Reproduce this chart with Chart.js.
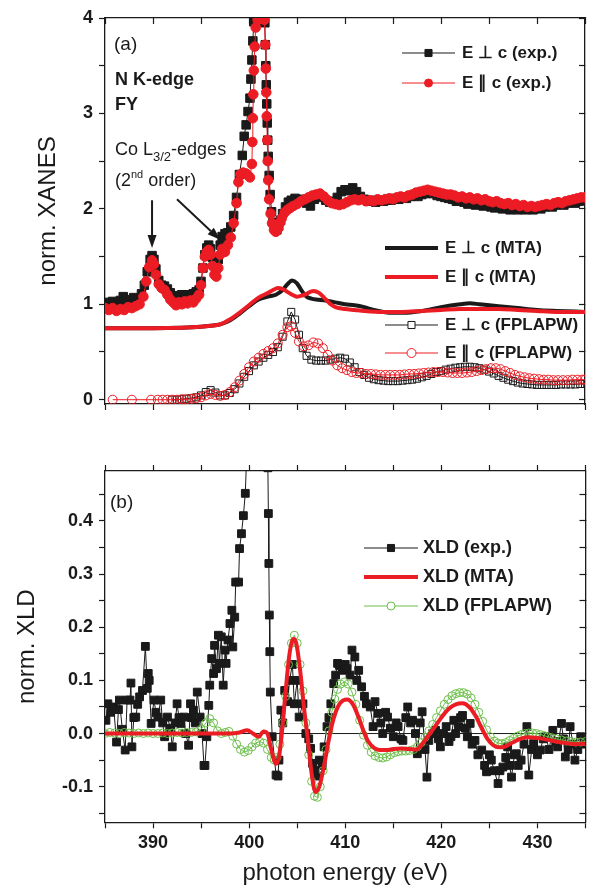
<!DOCTYPE html>
<html>
<head>
<meta charset="utf-8">
<script src="https://cdn.jsdelivr.net/npm/chart.js@4.4.1/dist/chart.umd.min.js"></script>
<style>
  html, body { margin: 0; padding: 0; background: #fff; }
  #wrap { position: relative; width: 592px; height: 893px; }
  canvas { position: absolute; left: 0; }
  #cA { top: 0; }
  #cB { top: 430px; }
</style>
</head>
<body>
<div id="wrap">
  <canvas id="cA" width="592" height="430"></canvas>
  <canvas id="cB" width="592" height="463"></canvas>
</div>
<script>
// ── Data (photon energy eV, value) ─────────────────────────────────────
const xLabels  = [390, 400, 410, 420, 430];
const yLabelsA = [0, 1, 2, 3, 4];
const yLabelsB = [-0.1, 0, 0.1, 0.2, 0.3, 0.4];

// (a) E perp c, experiment
const expPerpA = [
  [385.0,1.02],[385.4,1.00],[385.8,1.03],[386.2,1.01],[386.6,1.04],[386.9,1.08],[387.2,1.04],[387.6,1.05],
  [388.0,1.07],[388.4,1.06],[388.8,1.11],[389.1,1.20],[389.4,1.34],[389.7,1.47],[389.9,1.51],[390.1,1.47],
  [390.3,1.37],[390.6,1.25],[390.9,1.20],[391.2,1.19],[391.5,1.16],[391.8,1.12],[392.1,1.09],[392.4,1.06],
  [392.7,1.08],[393.0,1.10],[393.3,1.07],[393.6,1.10],[393.9,1.08],[394.2,1.11],[394.5,1.13],[394.8,1.15],
  [395.0,1.24],[395.2,1.38],[395.4,1.52],[395.6,1.59],[395.8,1.62],[396.0,1.58],[396.2,1.49],[396.4,1.41],
  [396.6,1.38],[396.8,1.47],[397.0,1.62],[397.2,1.71],[397.5,1.74],[397.8,1.75],[398.1,1.81],[398.4,1.93],
  [398.7,2.12],[399.0,2.36],[399.3,2.56],[399.5,2.76],[399.7,2.88],[399.9,3.02],[400.1,3.16],[400.2,3.36],
  [400.3,3.56],[400.4,3.76],[400.5,3.96],[400.8,4.4],[401.3,4.4],[401.65,3.95],[401.7,3.72],[401.75,3.5],
  [401.8,3.3],[401.85,3.1],[401.9,2.9],[401.95,2.72],[402.0,2.55],[402.1,2.35],[402.2,2.15],[402.35,1.97],
  [402.5,1.86],[402.7,1.80],[402.9,1.78],[403.1,1.82],[403.3,1.88],[403.5,1.95],[403.8,2.02],[404.1,2.07],
  [404.4,2.09],[404.8,2.11],[405.2,2.08],[405.6,2.10],[406.0,2.06],[406.4,2.03],[406.8,2.10],[407.2,2.14],
  [407.6,2.12],[408.0,2.09],[408.4,2.07],[408.8,2.08],[409.2,2.12],[409.6,2.18],[410.0,2.20],[410.4,2.19],
  [410.8,2.22],[411.2,2.18],[411.6,2.13],[412.0,2.10],[412.4,2.08],[412.8,2.09],[413.2,2.07],[413.6,2.09],
  [414.0,2.08],[414.4,2.10],[414.8,2.09],[415.2,2.11],[415.6,2.10],[416.0,2.12],[416.4,2.11],[416.8,2.13],
  [417.2,2.14],[417.6,2.13],[418.0,2.15],[418.4,2.16],[418.8,2.17],[419.2,2.16],[419.6,2.14],[420.0,2.13],
  [420.4,2.12],[420.8,2.11],[421.2,2.10],[421.6,2.08],[422.0,2.09],[422.4,2.07],[422.8,2.05],[423.2,2.06],
  [423.6,2.04],[424.0,2.05],[424.4,2.03],[424.8,2.04],[425.2,2.02],[425.6,2.01],[426.0,2.02],[426.4,2.00],
  [426.8,2.01],[427.2,1.99],[427.6,2.00],[428.0,1.99],[428.4,2.00],[428.8,1.99],[429.2,2.00],[429.6,1.99],
  [430.0,2.01],[430.4,2.00],[430.8,2.02],[431.2,2.03],[431.6,2.02],[432.0,2.04],[432.4,2.05],[432.8,2.04],
  [433.2,2.06],[433.6,2.07],[434.0,2.06],[434.4,2.08],[434.8,2.09],
];

// (a) E par c, experiment
const expParA = [
  [385.0,0.96],[385.4,0.94],[385.8,0.96],[386.2,0.93],[386.6,0.95],[387.0,0.94],[387.4,0.97],[387.8,0.96],
  [388.2,0.98],[388.6,1.00],[389.0,1.08],[389.3,1.24],[389.6,1.39],[389.9,1.46],[390.1,1.42],[390.3,1.31],
  [390.6,1.21],[390.9,1.17],[391.2,1.15],[391.5,1.10],[391.8,1.05],[392.1,1.02],[392.4,0.99],[392.7,1.02],
  [393.0,1.00],[393.3,1.03],[393.6,1.01],[393.9,1.04],[394.2,1.02],[394.5,1.06],[394.8,1.10],[395.0,1.20],
  [395.2,1.38],[395.4,1.50],[395.6,1.55],[395.8,1.57],[396.0,1.52],[396.2,1.40],[396.4,1.31],[396.6,1.29],
  [396.8,1.38],[397.0,1.52],[397.2,1.58],[397.5,1.55],[397.8,1.62],[398.1,1.70],[398.4,1.85],[398.7,2.06],
  [398.9,2.28],[399.1,2.36],[399.4,2.38],[399.7,2.37],[399.9,2.35],[400.1,2.33],[400.3,2.47],[400.35,2.7],
  [400.4,2.95],[400.45,3.2],[400.5,3.45],[400.6,3.7],[400.7,3.9],[400.9,3.98],[401.25,4.05],[401.6,3.98],
  [401.7,3.72],[401.75,3.47],[401.8,3.22],[401.85,2.97],[401.9,2.72],[401.95,2.5],[402.0,2.30],[402.1,2.10],
  [402.25,1.95],[402.4,1.85],[402.6,1.78],[402.8,1.76],[403.0,1.79],[403.2,1.85],[403.4,1.90],[403.7,1.96],
  [404.0,1.99],[404.3,2.01],[404.6,2.03],[405.0,2.05],[405.4,2.08],[405.8,2.10],[406.2,2.12],[406.6,2.14],
  [407.0,2.15],[407.4,2.16],[407.8,2.13],[408.2,2.09],[408.6,2.06],[409.0,2.05],[409.4,2.04],[409.8,2.05],
  [410.2,2.07],[410.6,2.09],[411.0,2.10],[411.4,2.09],[411.8,2.10],[412.2,2.08],[412.6,2.09],[413.0,2.08],
  [413.4,2.10],[413.8,2.09],[414.2,2.10],[414.6,2.11],[415.0,2.10],[415.4,2.12],[415.8,2.13],[416.2,2.12],
  [416.6,2.14],[417.0,2.15],[417.4,2.17],[417.8,2.18],[418.2,2.19],[418.6,2.20],[419.0,2.19],[419.4,2.18],
  [419.8,2.17],[420.2,2.16],[420.6,2.15],[421.0,2.15],[421.4,2.14],[421.8,2.12],[422.2,2.13],[422.6,2.11],
  [423.0,2.12],[423.4,2.10],[423.8,2.11],[424.2,2.09],[424.6,2.10],[425.0,2.08],[425.4,2.07],[425.8,2.08],
  [426.2,2.06],[426.6,2.05],[427.0,2.06],[427.4,2.04],[427.8,2.05],[428.2,2.03],[428.6,2.04],[429.0,2.02],
  [429.4,2.03],[429.8,2.02],[430.2,2.03],[430.6,2.04],[431.0,2.05],[431.4,2.04],[431.8,2.06],[432.2,2.07],
  [432.6,2.06],[433.0,2.08],[433.4,2.09],[433.8,2.10],[434.2,2.11],[434.6,2.12],[435.0,2.12],
];

// (a) MTA calculations
const mtaPerpA = [
  [385,0.75],[390,0.75],[393,0.755],[395,0.765],[396,0.775],[397,0.79],[398,0.83],[399,0.90],[400,0.98],
  [401,1.05],[402,1.08],[402.8,1.10],[403.5,1.15],[404,1.21],[404.5,1.25],[405,1.22],[405.5,1.14],
  [406,1.08],[406.5,1.06],[407,1.05],[408,1.04],[409,1.02],[410,1.00],[411,0.99],[412,0.97],[413,0.94],
  [414,0.92],[415,0.91],[416,0.91],[418,0.93],[420,0.97],[422,1.00],[423,1.01],[424,1.00],[426,0.98],
  [428,0.96],[430,0.94],[432,0.93],[435,0.92],
];
const mtaParA = [
  [385,0.75],[390,0.75],[393,0.755],[395,0.765],[396,0.775],[397,0.79],[398,0.84],[399,0.91],[400,0.99],
  [401,1.07],[402,1.12],[402.5,1.15],[403,1.17],[403.5,1.16],[404,1.13],[404.5,1.10],[405,1.08],
  [405.5,1.09],[406,1.11],[406.7,1.14],[407.3,1.12],[408,1.05],[408.5,1.00],[409,0.97],[410,0.95],
  [411,0.94],[412,0.93],[414,0.92],[416,0.92],[418,0.93],[420,0.94],[422,0.95],[424,0.95],[426,0.95],
  [428,0.94],[430,0.93],[432,0.92],[435,0.92],
];

// (a) FPLAPW calculations
const fpPerpA = [
  [392.0,0.0],[392.5,0.0],[393.0,0.005],[393.5,0.01],[394.0,0.015],[394.5,0.025],[395.0,0.045],[395.5,0.08],
  [396.0,0.10],[396.5,0.075],[397.0,0.045],[397.5,0.045],[398.0,0.07],[398.5,0.11],[399.0,0.17],[399.5,0.24],
  [400.0,0.30],[400.5,0.36],[401.0,0.40],[401.5,0.44],[402.0,0.47],[402.5,0.50],[403.0,0.55],[403.5,0.66],
  [404.0,0.82],[404.4,0.92],[404.8,0.84],[405.2,0.68],[405.6,0.54],[406.0,0.46],[406.5,0.42],[407.0,0.41],
  [407.5,0.41],[408.0,0.41],[408.5,0.42],[409.0,0.43],[409.5,0.44],[410.0,0.43],[410.5,0.39],[411.0,0.34],
  [411.5,0.29],[412.0,0.26],[412.5,0.23],[413.0,0.215],[413.5,0.205],[414.0,0.20],[414.5,0.195],[415.0,0.195],
  [415.5,0.195],[416.0,0.20],[416.5,0.205],[417.0,0.21],[417.5,0.22],[418.0,0.235],[418.5,0.25],[419.0,0.27],
  [419.5,0.29],[420.0,0.30],[420.5,0.315],[421.0,0.325],[421.5,0.335],[422.0,0.34],[422.5,0.345],[423.0,0.345],
  [423.5,0.34],[424.0,0.33],[424.5,0.315],[425.0,0.295],[425.5,0.275],[426.0,0.25],[426.5,0.23],[427.0,0.21],
  [427.5,0.195],[428.0,0.18],[428.5,0.17],[429.0,0.165],[429.5,0.16],[430.0,0.155],[430.5,0.155],[431.0,0.155],
  [431.5,0.155],[432.0,0.155],[432.5,0.16],[433.0,0.16],[433.5,0.16],[434.0,0.16],[434.5,0.165],[435.0,0.165],
];
const fpParA = [
  [385.8,0.0],[387.8,0.0],[389.8,0.0],[390.5,0.0],[391.0,0.0],[391.5,0.0],[392.0,0.0],[392.5,0.0],
  [393.0,0.005],[393.5,0.005],[394.0,0.01],[394.5,0.015],[395.0,0.025],[395.5,0.045],[396.0,0.06],[396.5,0.05],
  [397.0,0.04],[397.5,0.05],[398.0,0.08],[398.5,0.13],[399.0,0.20],[399.5,0.27],[400.0,0.34],[400.5,0.40],
  [401.0,0.44],[401.5,0.48],[402.0,0.51],[402.5,0.54],[403.0,0.59],[403.5,0.68],[404.0,0.76],[404.4,0.77],
  [404.8,0.70],[405.2,0.61],[405.7,0.56],[406.2,0.57],[406.7,0.60],[407.2,0.59],[407.7,0.54],[408.2,0.47],
  [408.7,0.41],[409.2,0.36],[409.7,0.33],[410.2,0.31],[410.7,0.29],[411.2,0.28],[411.7,0.28],[412.2,0.27],
  [412.7,0.27],[413.2,0.265],[413.7,0.26],[414.2,0.26],[414.7,0.26],[415.2,0.26],[415.7,0.26],[416.2,0.265],
  [416.7,0.27],[417.2,0.27],[417.7,0.275],[418.2,0.28],[418.7,0.285],[419.2,0.29],[419.7,0.29],[420.2,0.29],
  [420.7,0.285],[421.2,0.28],[421.7,0.28],[422.2,0.28],[422.7,0.285],[423.2,0.29],[423.7,0.30],[424.2,0.31],
  [424.7,0.32],[425.2,0.33],[425.7,0.33],[426.2,0.32],[426.7,0.30],[427.2,0.28],[427.7,0.26],[428.2,0.245],
  [428.7,0.235],[429.2,0.225],[429.7,0.22],[430.2,0.215],[430.7,0.21],[431.2,0.21],[431.7,0.205],[432.2,0.205],
  [432.7,0.205],[433.2,0.205],[433.7,0.21],[434.2,0.21],[434.7,0.21],[435.0,0.21],
];

// (b) XLD experiment
const xldExp = [
  [385.1,0.025],[385.3,0.056],[385.6,0.04],[385.9,0.05],[386.2,-0.016],[386.4,0.045],[386.5,0.063],[386.8,0.008],
  [387.1,-0.031],[387.3,0.063],[387.6,0.063],[387.7,0.095],[387.8,-0.025],[388.0,0.03],[388.2,0.031],[388.4,0.055],
  [388.6,0.069],[388.9,0.081],[389.2,0.164],[389.4,0.085],[389.5,0.113],[389.6,0.1],[389.8,0.019],[390.1,0.063],
  [390.3,0.04],[390.5,0.031],[390.8,0.063],[391.0,0.02],[391.2,-0.006],[391.5,0.031],[391.8,0.01],[392.0,-0.025],
  [392.3,0.02],[392.5,0.056],[392.7,0.03],[392.9,0.019],[393.2,0.031],[393.4,0.0],[393.7,-0.022],[393.9,0.056],
  [394.0,0.03],[394.2,0.044],[394.4,0.02],[394.6,0.078],[394.9,0.031],[395.1,0.0],[395.3,-0.06],[395.4,-0.06],
  [395.6,-0.006],[395.8,0.053],[395.9,0.091],[396.1,0.141],[396.3,0.113],[396.4,0.166],[396.6,0.122],[396.8,0.185],
  [396.9,0.132],[397.1,0.182],[397.3,0.091],[397.5,0.157],[397.6,0.132],[397.8,0.176],[398.0,0.207],[398.2,0.232],
  [398.3,0.163],[398.5,0.219],[398.6,0.285],[398.9,0.285],[399.0,0.348],[399.2,0.376],[399.4,0.41],[399.6,0.452],
  [399.9,0.6],[400.5,0.9],[401.5,0.8],[401.95,0.5],[402.0,0.414],[402.05,0.32],[402.1,0.223],[402.15,0.154],
  [402.2,0.078],[402.4,-0.006],[402.8,-0.078],[403.0,-0.08],[403.1,-0.05],[403.3,0.044],[403.5,0.02],[403.7,0.081],
  [404.0,0.06],[404.2,0.1],[404.5,0.13],[404.7,0.056],[405.0,0.1],[405.2,0.031],[405.6,0.056],[405.9,0.0],
  [406.2,-0.01],[406.4,-0.028],[406.6,-0.056],[406.9,-0.069],[407.1,-0.08],[407.3,-0.05],[407.6,-0.06],[407.8,-0.025],
  [408.1,0.013],[408.3,0.03],[408.5,0.056],[408.8,0.094],[409.0,0.11],[409.2,0.132],[409.4,0.128],[409.7,0.119],
  [410.0,0.13],[410.2,0.122],[410.5,0.11],[410.7,0.157],[411.0,0.144],[411.2,0.1],[411.4,0.119],[411.7,0.088],
  [412.0,0.07],[412.2,0.056],[412.6,0.05],[412.9,0.013],[413.1,0.06],[413.4,0.038],[413.7,0.02],[413.9,0.0],
  [414.2,0.04],[414.4,0.031],[414.7,0.01],[415.0,-0.006],[415.3,0.02],[415.5,0.013],[415.8,-0.01],[416.0,-0.013],
  [416.3,0.03],[416.5,0.05],[416.8,0.02],[417.0,0.025],[417.3,0.0],[417.5,-0.038],[417.8,0.02],[418.0,0.041],
  [418.3,-0.03],[418.5,-0.082],[418.7,-0.013],[419.1,0.0],[419.4,0.006],[419.7,-0.01],[419.9,-0.025],[420.2,0.0],
  [420.5,0.013],[420.8,-0.015],[421.0,-0.006],[421.3,0.025],[421.5,0.0],[421.8,0.013],[422.0,0.03],[422.2,0.034],
  [422.5,0.01],[422.7,-0.006],[423.0,0.019],[423.2,-0.02],[423.5,-0.013],[423.8,-0.04],[424.2,-0.031],[424.5,-0.06],
  [424.7,-0.072],[425.0,-0.04],[425.2,-0.05],[425.5,-0.07],[425.9,-0.094],[426.1,-0.07],[426.4,-0.063],[426.7,-0.045],
  [426.9,-0.025],[427.1,-0.06],[427.3,-0.082],[427.6,-0.04],[427.8,-0.038],[428.0,-0.06],[428.3,-0.05],[428.6,-0.02],
  [428.9,0.013],[429.1,-0.078],[429.4,-0.03],[429.6,-0.019],[430.0,-0.04],[430.3,-0.031],[430.6,-0.01],[430.9,-0.006],
  [431.2,-0.03],[431.6,0.006],[431.9,-0.015],[432.1,-0.025],[432.5,0.019],[432.7,-0.01],[432.9,-0.044],[433.2,-0.03],
  [433.4,0.013],[433.7,-0.02],[433.9,-0.05],[434.2,-0.03],[434.5,-0.006],[434.8,-0.02],
];

// (b) XLD MTA
const xldMta = [
  [385,0],[388,0],[391,0],[394,0],[396,0],[398,0],[399,0.002],[399.8,0.006],[400.4,0.0],[401.0,-0.006],
  [401.5,0.004],[401.9,0.0],[402.3,-0.03],[402.8,-0.057],[403.1,-0.045],[403.4,0.0],[403.8,0.08],[404.2,0.15],
  [404.6,0.178],[404.9,0.17],[405.3,0.12],[405.7,0.05],[406.1,-0.01],[406.5,-0.075],[406.9,-0.11],[407.3,-0.10],
  [407.8,-0.06],[408.2,-0.02],[408.6,0.015],[409.0,0.04],[409.5,0.058],[410.2,0.064],[410.8,0.055],[411.4,0.03],
  [411.9,0.005],[412.4,-0.015],[413.0,-0.027],[413.6,-0.031],[414.3,-0.031],[415.0,-0.029],[415.8,-0.028],
  [416.6,-0.029],[417.4,-0.03],[418.0,-0.02],[418.6,-0.005],[419.3,0.012],[420.0,0.03],[420.8,0.047],[421.5,0.055],
  [422.2,0.057],[422.9,0.05],[423.6,0.032],[424.2,0.01],[424.8,-0.01],[425.4,-0.022],[426.0,-0.026],[426.7,-0.024],
  [427.4,-0.017],[428.2,-0.01],[429.0,-0.007],[429.8,-0.008],[430.6,-0.01],[431.4,-0.013],[432.2,-0.016],
  [433.0,-0.018],[434.0,-0.02],[435.0,-0.019],
];

// (b) XLD FPLAPW
const xldFp = [
  [385.0,0.0],[385.5,0.002],[386.0,0.001],[386.5,0.0],[387.0,0.002],[387.5,0.001],[388.0,0.0],[388.5,0.001],
  [389.0,0.0],[389.5,0.001],[390.0,0.0],[390.5,0.0],[391.0,0.001],[391.5,0.0],[392.0,0.001],[392.5,0.002],
  [393.0,0.001],[393.5,0.002],[394.0,0.002],[394.5,0.003],[395.0,0.008],[395.5,0.02],[395.9,0.028],[396.3,0.02],
  [396.7,0.005],[397.1,0.0],[397.5,0.002],[397.9,0.004],[398.3,-0.005],[398.7,-0.02],[399.1,-0.03],[399.5,-0.035],
  [399.9,-0.032],[400.3,-0.025],[400.7,-0.018],[401.1,-0.015],[401.5,-0.018],[401.9,-0.03],[402.3,-0.045],
  [402.6,-0.05],[402.9,-0.045],[403.2,-0.02],[403.5,0.02],[403.8,0.07],[404.1,0.13],[404.4,0.17],[404.7,0.185],
  [405.0,0.17],[405.3,0.13],[405.6,0.08],[405.9,0.02],[406.2,-0.04],[406.5,-0.09],[406.8,-0.118],[407.1,-0.12],
  [407.4,-0.10],[407.7,-0.07],[408.0,-0.03],[408.3,0.005],[408.6,0.04],[408.9,0.065],[409.2,0.083],[409.5,0.093],
  [409.9,0.097],[410.3,0.093],[410.7,0.078],[411.1,0.055],[411.5,0.025],[411.9,-0.003],[412.3,-0.022],
  [412.7,-0.035],[413.1,-0.042],[413.5,-0.045],[413.9,-0.046],[414.3,-0.044],[414.7,-0.04],[415.1,-0.036],
  [415.5,-0.034],[415.9,-0.033],[416.3,-0.033],[416.7,-0.032],[417.1,-0.03],[417.5,-0.025],[417.9,-0.017],
  [418.3,-0.007],[418.7,0.005],[419.1,0.017],[419.5,0.03],[419.9,0.043],[420.3,0.055],[420.7,0.064],[421.1,0.071],
  [421.5,0.075],[421.9,0.077],[422.3,0.077],[422.7,0.074],[423.1,0.067],[423.5,0.055],[423.9,0.04],[424.3,0.023],
  [424.7,0.007],[425.1,-0.006],[425.5,-0.014],[425.9,-0.018],[426.3,-0.019],[426.7,-0.017],[427.1,-0.013],
  [427.5,-0.009],[427.9,-0.005],[428.3,-0.002],[428.7,0.0],[429.1,0.001],[429.5,0.001],[429.9,0.0],[430.3,-0.002],
  [430.7,-0.004],[431.1,-0.006],[431.5,-0.008],[432.0,-0.01],[432.5,-0.012],[433.0,-0.014],[433.5,-0.015],
  [434.0,-0.016],[434.5,-0.016],[435.0,-0.015],
];

const zeroLine = [[385, 0], [435, 0]];

// ── Style ───────────────────────────────────────────────────────────────
const FONT  = "'Liberation Sans', Arial, Helvetica, sans-serif";
const INK   = "#1a1a1a";
const RED   = "#ec1c24";
const GREEN = "#6cbf4a";
const NONE  = "rgba(255,255,255,0)";

const tickFont  = { family: FONT, size: 18, weight: "bold", lineHeight: 1.2 };
const titleFont = { family: FONT, size: 24, weight: "normal", lineHeight: 1.2 };

const pickLabel = (list, digits) => (v) => {
  const hit = list.find((t) => Math.abs(t - v) < 1e-6);
  if (hit === undefined) return "";
  return digits ? hit.toFixed(digits) : String(hit);
};

const axis = (o) => ({
  type: "linear",
  position: o.pos,
  min: o.min,
  max: o.max,
  afterFit: (s) => { if (s.isHorizontal()) s.height = o.size; else s.width = o.size; },
  border: { display: true, color: INK, width: 1.3 },
  grid: { drawOnChartArea: false, drawTicks: true, tickLength: o.tick, tickColor: INK, tickWidth: 1.2 },
  ticks: {
    display: !!o.labels,
    stepSize: o.step,
    autoSkip: false,
    includeBounds: false,
    maxRotation: 0,
    font: tickFont,
    color: INK,
    padding: o.pad || 0,
    callback: o.labels || (() => ""),
  },
  title: o.title
    ? { display: true, text: o.title, font: titleFont, color: INK, padding: o.titlePad }
    : { display: false },
});

const dotted = (data, o) => ({
  data,
  showLine: true,
  borderColor: o.color,
  borderWidth: o.lw,
  pointStyle: o.style,
  pointRadius: o.r,
  pointBackgroundColor: o.fill,
  pointBorderColor: o.color,
  pointBorderWidth: 1,
  order: o.order,
});

const smooth = (data, color, lw, order) => ({
  data,
  showLine: true,
  borderColor: color,
  borderWidth: lw,
  pointRadius: 0,
  cubicInterpolationMode: "monotone",
  order,
});

// ── Overlay helpers ─────────────────────────────────────────────────────
const drawRuns = (ctx, x, y, runs) => {
  let cx = x;
  for (const r of runs) {
    ctx.font = r.font;
    ctx.fillText(r.t, cx, y + (r.dy || 0));
    cx += ctx.measureText(r.t).width;
  }
};

const arrow = (ctx, x0, y0, x1, y1) => {
  const a = Math.atan2(y1 - y0, x1 - x0), L = 13, W = 4.5;
  const bx = x1 - L * Math.cos(a), by = y1 - L * Math.sin(a);
  ctx.beginPath(); ctx.moveTo(x0, y0); ctx.lineTo(bx, by); ctx.stroke();
  ctx.beginPath();
  ctx.moveTo(x1, y1);
  ctx.lineTo(bx + W * Math.sin(a), by - W * Math.cos(a));
  ctx.lineTo(bx - W * Math.sin(a), by + W * Math.cos(a));
  ctx.closePath(); ctx.fill();
};

const marker = (ctx, ds, x, y, fill) => {
  ctx.fillStyle = fill;
  ctx.strokeStyle = ds.pointBorderColor;
  ctx.lineWidth = 1;
  ctx.beginPath();
  if (ds.pointStyle === "rect") {
    const s = Math.SQRT1_2 * ds.pointRadius;
    ctx.rect(x - s, y - s, 2 * s, 2 * s);
  } else {
    ctx.arc(x, y, ds.pointRadius, 0, Math.PI * 2);
  }
  ctx.fill(); ctx.stroke();
};

const drawLegend = (chart, items, font) => {
  const ctx = chart.ctx;
  ctx.save();
  for (const it of items) {
    const ds = chart.data.datasets[it.ds];
    ctx.strokeStyle = ds.borderColor;
    ctx.lineWidth = ds.borderWidth;
    ctx.beginPath(); ctx.moveTo(it.x0, it.y); ctx.lineTo(it.x1, it.y); ctx.stroke();
    if (ds.pointRadius > 0) {
      const r = it.r || ds.pointRadius;
      marker(ctx, { ...ds, pointRadius: r }, (it.x0 + it.x1) / 2, it.y, it.fill || ds.pointBackgroundColor);
    }
    ctx.fillStyle = INK;
    ctx.font = font;
    ctx.textBaseline = "middle";
    ctx.textAlign = "left";
    ctx.fillText(it.text, it.x1 + it.gap, it.y);
  }
  ctx.restore();
};

// ── Panel (a) ───────────────────────────────────────────────────────────
const overlayA = {
  id: "overlayA",
  afterDraw(chart) {
    const ctx = chart.ctx, xs = chart.scales.x, ys = chart.scales.y;
    ctx.save();
    ctx.fillStyle = INK;
    ctx.textBaseline = "alphabetic";
    ctx.font = `19px ${FONT}`;
    ctx.fillText("(a)", 114, 50);
    ctx.font = `bold 18px ${FONT}`;
    ctx.fillText("N K-edge", 115, 85);
    ctx.fillText("FY", 115, 110);
    drawRuns(ctx, 115, 155, [
      { t: "Co L", font: `18px ${FONT}` },
      { t: "3/2", font: `13px ${FONT}`, dy: 6 },
      { t: "-edges", font: `18px ${FONT}` },
    ]);
    drawRuns(ctx, 115, 186, [
      { t: "(2", font: `18px ${FONT}` },
      { t: "nd", font: `11px ${FONT}`, dy: -8 },
      { t: " order)", font: `18px ${FONT}` },
    ]);
    ctx.strokeStyle = INK;
    ctx.lineWidth = 2;
    arrow(ctx, xs.getPixelForValue(389.9), ys.getPixelForValue(2.09),
               xs.getPixelForValue(389.9), ys.getPixelForValue(1.59));
    arrow(ctx, xs.getPixelForValue(392.5), ys.getPixelForValue(2.10),
               xs.getPixelForValue(397.0), ys.getPixelForValue(1.675));
    ctx.restore();

    drawLegend(chart, [
      { ds: 1, x0: 402, x1: 455, y: 53, gap: 7, r: 5, text: "E \u22a5 c (exp.)" },
      { ds: 0, x0: 402, x1: 455, y: 83, gap: 7, r: 4, text: "E \u2225 c (exp.)" },
      { ds: 3, x0: 385, x1: 438, y: 248, gap: 7, text: "E \u22a5 c (MTA)" },
      { ds: 2, x0: 385, x1: 438, y: 277, gap: 7, text: "E \u2225 c (MTA)" },
      { ds: 5, x0: 385, x1: 438, y: 325, gap: 7, text: "E \u22a5 c (FPLAPW)", fill: "#fff" },
      { ds: 4, x0: 385, x1: 438, y: 353, gap: 7, text: "E \u2225 c (FPLAPW)", fill: "#fff" },
    ], `bold 17px ${FONT}`);
  },
};

new Chart(document.getElementById("cA"), {
  type: "scatter",
  data: {
    datasets: [
      dotted(expParA,  { color: RED, lw: 1, style: "circle", r: 4.8, fill: RED, order: 1 }),
      dotted(expPerpA, { color: INK, lw: 1, style: "rect", r: 6, fill: INK, order: 2 }),
      smooth(mtaParA, RED, 4, 3),
      smooth(mtaPerpA, INK, 4, 4),
      dotted(fpParA,  { color: RED, lw: 1, style: "circle", r: 4.5, fill: NONE, order: 5 }),
      dotted(fpPerpA, { color: INK, lw: 1, style: "rect", r: 5, fill: NONE, order: 6 }),
    ],
  },
  options: {
    responsive: false,
    animation: false,
    layout: { padding: { left: 0, right: 1, top: 18, bottom: 0 } },
    plugins: { legend: { display: false }, tooltip: { enabled: false } },
    scales: {
      x:  axis({ pos: "bottom", min: 385, max: 435, step: 5, size: 26, tick: 6 }),
      x2: axis({ pos: "top", min: 385, max: 435, step: 5, size: 0, tick: -6 }),
      y:  axis({ pos: "left", min: -0.045, max: 4, step: 0.5, size: 105, tick: 6, pad: 6,
                 labels: pickLabel(yLabelsA), title: "norm. XANES", titlePad: { top: 33.6, bottom: 0 } }),
      y2: axis({ pos: "right", min: -0.045, max: 4, step: 0.5, size: 0, tick: -6 }),
    },
  },
  plugins: [overlayA],
});

// ── Panel (b) ───────────────────────────────────────────────────────────
const overlayB = {
  id: "overlayB",
  afterDraw(chart) {
    const ctx = chart.ctx;
    ctx.save();
    ctx.fillStyle = INK;
    ctx.textBaseline = "alphabetic";
    ctx.font = `19px ${FONT}`;
    ctx.fillText("(b)", 110, 78);
    ctx.restore();
    drawLegend(chart, [
      { ds: 2, x0: 364, x1: 418, y: 118, gap: 5, r: 5, text: "XLD (exp.)" },
      { ds: 0, x0: 364, x1: 418, y: 147, gap: 5, text: "XLD (MTA)" },
      { ds: 1, x0: 364, x1: 418, y: 176, gap: 5, text: "XLD (FPLAPW)", fill: "#fff" },
    ], `bold 18px ${FONT}`);
  },
};

new Chart(document.getElementById("cB"), {
  type: "scatter",
  data: {
    datasets: [
      smooth(xldMta, RED, 4, 1),
      dotted(xldFp,  { color: GREEN, lw: 1, style: "circle", r: 4, fill: NONE, order: 2 }),
      dotted(xldExp, { color: INK, lw: 1, style: "rect", r: 5.5, fill: INK, order: 3 }),
      { data: zeroLine, showLine: true, borderColor: INK, borderWidth: 1, pointRadius: 0, order: 4 },
    ],
  },
  options: {
    responsive: false,
    animation: false,
    layout: { padding: { left: 0, right: 1, top: 41, bottom: 0 } },
    plugins: { legend: { display: false }, tooltip: { enabled: false } },
    scales: {
      x:  axis({ pos: "bottom", min: 385, max: 435, step: 5, size: 70.7, tick: 6, pad: 4,
                 labels: pickLabel(xLabels), title: "photon energy (eV)", titlePad: { top: 0, bottom: 5.6 } }),
      x2: axis({ pos: "top", min: 385, max: 435, step: 5, size: 0, tick: 6 }),
      y:  axis({ pos: "left", min: -0.167, max: 0.494, step: 0.05, size: 105, tick: 6, pad: 6,
                 labels: pickLabel(yLabelsB, 1), title: "norm. XLD", titlePad: { top: 12.6, bottom: 0 } }),
      y2: axis({ pos: "right", min: -0.167, max: 0.494, step: 0.05, size: 0, tick: -6 }),
    },
  },
  plugins: [overlayB],
});
</script>
</body>
</html>
